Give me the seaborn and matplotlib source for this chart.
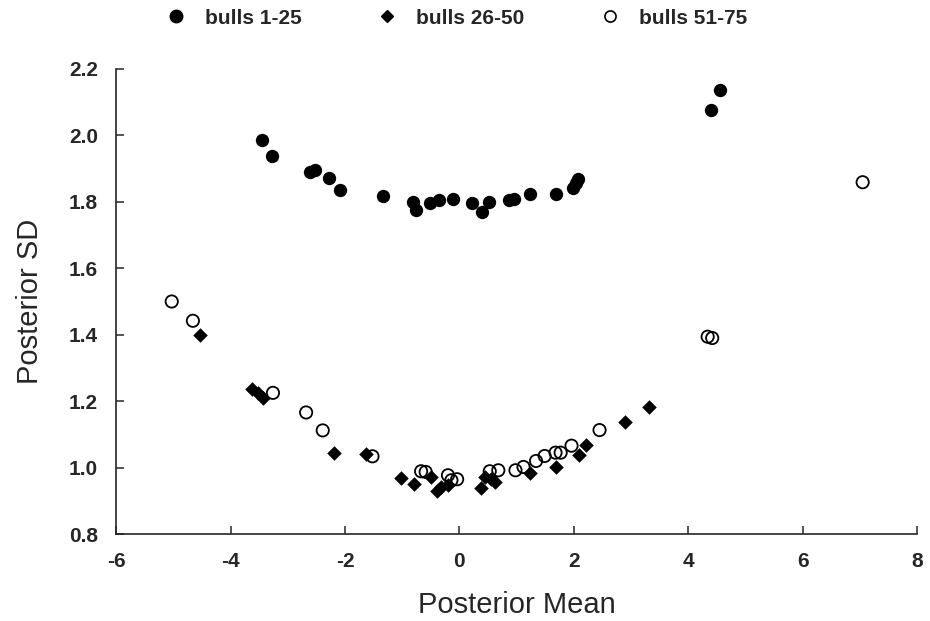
import numpy as np
import pandas as pd
import matplotlib
matplotlib.use("Agg")
import matplotlib.pyplot as plt
from matplotlib.lines import Line2D
import seaborn as sns

# ------------------------------------------
# Data
# ------------------------------------------
bulls_1_25_mean = [-3.45, -3.28, -2.62, -2.52, -2.28, -2.09, -1.34, -0.82, -0.76, -0.51,
                   -0.36, -0.11, 0.22, 0.39, 0.51, 0.87, 0.95, 1.23, 1.68, 1.98,
                   2.03, 2.08, 4.39, 4.55]
bulls_1_25_sd = [1.985, 1.938, 1.889, 1.897, 1.872, 1.836, 1.818, 1.799, 1.775, 1.797,
                 1.806, 1.809, 1.795, 1.769, 1.799, 1.806, 1.807, 1.825, 1.825, 1.842,
                 1.858, 1.870, 2.075, 2.137]

bulls_26_50_mean = [-4.53, -3.62, -3.52, -3.43, -2.20, -1.63, -1.03, -0.79, -0.49, -0.39,
                    -0.32, -0.20, 0.37, 0.45, 0.56, 0.62, 1.24, 1.68, 2.09, 2.21,
                    2.89, 3.31]
bulls_26_50_sd = [1.400, 1.238, 1.225, 1.210, 1.045, 1.042, 0.969, 0.950, 0.972, 0.929,
                  0.942, 0.947, 0.939, 0.972, 0.967, 0.957, 0.984, 1.002, 1.039, 1.068,
                  1.138, 1.181]

bulls_51_75_mean = [-5.03, -4.66, -3.26, -2.68, -2.39, -1.52, -0.67, -0.59, -0.20, -0.14,
                    -0.04, 0.53, 0.68, 0.98, 1.12, 1.34, 1.49, 1.68, 1.77, 1.96,
                    2.45, 4.34, 4.42, 7.05]
bulls_51_75_sd = [1.500, 1.442, 1.225, 1.166, 1.112, 1.034, 0.989, 0.987, 0.977, 0.962,
                  0.965, 0.989, 0.992, 0.992, 1.002, 1.020, 1.035, 1.045, 1.045, 1.066,
                  1.113, 1.394, 1.390, 1.859]

group_labels = ["bulls 1-25", "bulls 26-50", "bulls 51-75"]
x_ticks = [-6, -4, -2, 0, 2, 4, 6, 8]
y_ticks = [0.8, 1.0, 1.2, 1.4, 1.6, 1.8, 2.0, 2.2]

df = pd.concat([
    pd.DataFrame({"mean": bulls_1_25_mean, "sd": bulls_1_25_sd, "group": group_labels[0]}),
    pd.DataFrame({"mean": bulls_26_50_mean, "sd": bulls_26_50_sd, "group": group_labels[1]}),
    pd.DataFrame({"mean": bulls_51_75_mean, "sd": bulls_51_75_sd, "group": group_labels[2]}),
])

# ------------------------------------------
# Style
# ------------------------------------------
sns.set_style("ticks")
plt.rcParams['font.family'] = ['Liberation Sans', 'DejaVu Sans']

fig = plt.figure(figsize=(9.3, 6.21), dpi=100)
ax = fig.add_axes([0.125, 0.140, 0.861, 0.749])

# filled circles
sns.scatterplot(data=df[df.group == group_labels[0]], x="mean", y="sd", ax=ax,
                marker="o", s=92, color="black", linewidth=0, legend=False)
# filled diamonds
sns.scatterplot(data=df[df.group == group_labels[1]], x="mean", y="sd", ax=ax,
                marker="D", s=55, color="black", linewidth=0, legend=False)
# open circles
sns.scatterplot(data=df[df.group == group_labels[2]], x="mean", y="sd", ax=ax,
                marker="o", s=78, facecolor="none", edgecolor="black", linewidth=1.3,
                legend=False)

ax.set_xlim(-6, 8)
ax.set_ylim(0.8, 2.2)
ax.set_xticks(x_ticks)
ax.set_yticks(y_ticks)
ax.set_xticklabels([str(t) for t in x_ticks], fontsize=15, fontweight='bold')
ax.set_yticklabels([f"{t:.1f}" for t in y_ticks], fontsize=15, fontweight='bold')
ax.tick_params(direction='in', length=6, width=1.1, pad=13)

sns.despine(ax=ax)
for side in ['left', 'bottom']:
    ax.spines[side].set_linewidth(1.2)

ax.set_xlabel("Posterior Mean", fontsize=21, labelpad=14)
ax.set_ylabel("Posterior SD", fontsize=21, labelpad=18)

handles = [
    Line2D([], [], marker='o', linestyle='none', color='black', markersize=9),
    Line2D([], [], marker='D', linestyle='none', color='black', markersize=6.5),
    Line2D([], [], marker='o', linestyle='none', markerfacecolor='none',
           markeredgecolor='black', markeredgewidth=1.2, markersize=8),
]
fig.legend(handles, group_labels, loc='upper left', bbox_to_anchor=(0.178, 0.986),
           ncol=3, frameon=False, borderpad=0, borderaxespad=0,
           handlelength=1.0, handletextpad=0.9, columnspacing=3.6,
           prop={'size': 15, 'weight': 'bold'})

fig.savefig("out.png", dpi=100)
